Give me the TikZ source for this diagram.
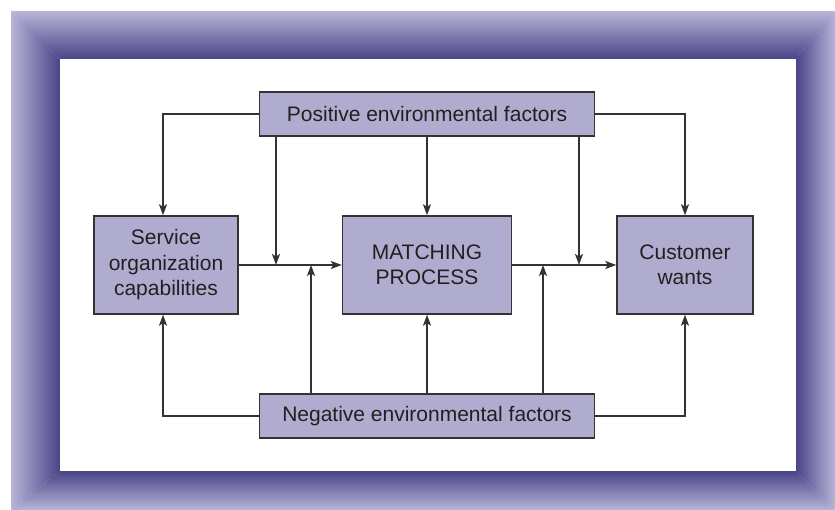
\documentclass[tikz,border=0pt]{standalone}
\usepackage{fontspec}
\setmainfont{Liberation Sans}
\usetikzlibrary{arrows.meta}
\definecolor{frameLight}{HTML}{B8B5D8}
\definecolor{frameDark}{HTML}{4A4488}
\definecolor{boxFill}{HTML}{B0ACD0}
\definecolor{lineCol}{HTML}{333333}
\definecolor{txtCol}{HTML}{231F20}
\tikzset{
  fbox/.style={draw=lineCol, line width=1.4pt, fill=boxFill, align=center, inner sep=0pt,
    text=txtCol, font=\fontsize{21}{25.5}\selectfont},
  conn/.style={draw=lineCol, line width=1.4pt},
  arr/.style={conn, -{Stealth[length=11pt,width=8pt,inset=2.5pt]}},
}
\begin{document}
\begin{tikzpicture}[x=1pt,y=1pt]
\useasboundingbox (0,0) rectangle (835,510);
\fill[white] (0,0) rectangle (835,510);
% frame
\shade[top color=frameLight, bottom color=frameDark] (11,499) -- (835,499) -- (796,451) -- (60,451) -- cycle;
\shade[top color=frameDark, bottom color=frameLight] (11,0) -- (835,0) -- (796,39) -- (60,39) -- cycle;
\shade[left color=frameLight, right color=frameDark] (11,499) -- (60,451) -- (60,39) -- (11,0) -- cycle;
\shade[left color=frameDark, right color=frameLight] (835,499) -- (796,451) -- (796,39) -- (835,0) -- cycle;
\fill[white] (60,39) rectangle (796,451);
% nodes
\node[fbox, minimum width=335pt, minimum height=44pt] (pos) at (427,396) {Positive environmental factors};
\node[fbox, minimum width=335pt, minimum height=44pt] (neg) at (427,94) {Negative environmental factors};
\node[fbox, minimum width=144pt, minimum height=98pt] (svc) at (166,245) {Service\\organization\\capabilities};
\node[fbox, minimum width=169pt, minimum height=98pt] (mat) at (427,245) {MATCHING\\PROCESS};
\node[fbox, minimum width=136pt, minimum height=98pt] (cus) at (685,245) {Customer\\wants};
% junctions on the main line
\coordinate (j1) at (276,245);
\coordinate (j2) at (311,245);
\coordinate (j3) at (579,245);
\coordinate (j4) at (543,245);
% connectors
\draw[arr] (svc.east) -- (mat.west);
\draw[arr] (mat.east) -- (cus.west);
\draw[arr] (pos.west) -| ([xshift=-3pt]svc.north);
\draw[arr] (pos.east) -| (cus.north);
\draw[arr] (pos.south -| j1) -- (j1);
\draw[arr] (pos.south) -- (mat.north);
\draw[arr] (pos.south -| j3) -- (j3);
\draw[arr] (neg.west) -| ([xshift=-3pt]svc.south);
\draw[arr] (neg.east) -| (cus.south);
\draw[arr] (neg.north -| j2) -- (j2);
\draw[arr] (neg.north) -- (mat.south);
\draw[arr] (neg.north -| j4) -- (j4);
\end{tikzpicture}
\end{document}
